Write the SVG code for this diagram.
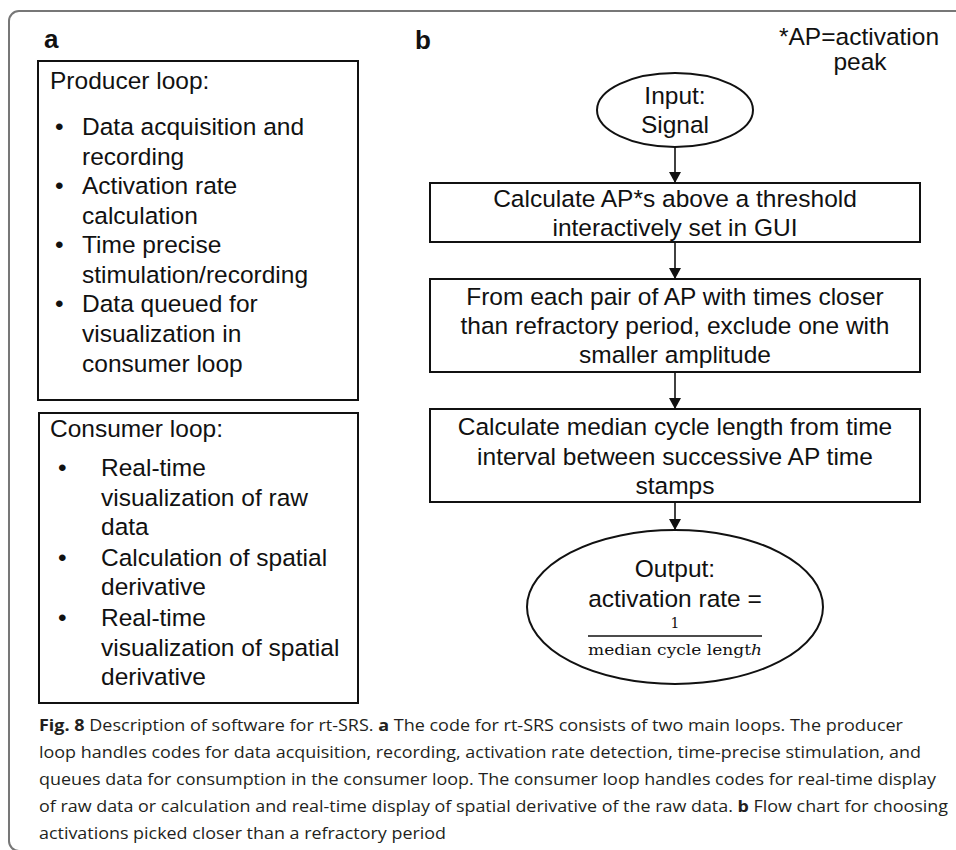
<svg xmlns="http://www.w3.org/2000/svg" width="956" height="850" viewBox="0 0 956 850">
<style>
.t{font-family:"Liberation Sans",Arial,sans-serif;font-size:24.5px;fill:#111}
.c{text-anchor:middle}
.lbl{font-family:"Liberation Sans",Arial,sans-serif;font-size:26px;font-weight:bold;fill:#111}
.box{fill:#fff;stroke:#111;stroke-width:2}
.cap{font-family:"Open Sans","Noto Sans",sans-serif;font-size:16.5px;fill:#231f20}
.b{font-weight:bold}
.conn{stroke:#111;stroke-width:1.6;fill:none}
.math{font-family:"DejaVu Serif","Liberation Serif",serif;fill:#111}
</style>
<defs>
<marker id="arr" markerUnits="userSpaceOnUse" markerWidth="12" markerHeight="12" refX="11" refY="6" orient="auto">
<path d="M0,0 L11,6 L0,12 z" fill="#111"/>
</marker>
</defs>
<rect x="9" y="11" width="980" height="840" rx="10" ry="10" fill="#fff" stroke="#777" stroke-width="2"/>
<text class="lbl" x="44" y="48">a</text>
<text class="lbl" x="415" y="49">b</text>
<g id="note">
<text class="t c" x="859" y="45">*AP=activation</text>
<text class="t c" x="860" y="70">peak</text>
</g>
<g id="producer">
<rect class="box" x="38" y="61" width="320" height="339"/>
<text class="t" x="50" y="89">Producer loop:</text>
<text class="t" x="55" y="135">•</text>
<text class="t" x="82" y="135">Data acquisition and</text>
<text class="t" x="82" y="164.5">recording</text>
<text class="t" x="55" y="194">•</text>
<text class="t" x="82" y="194">Activation rate</text>
<text class="t" x="82" y="223.5">calculation</text>
<text class="t" x="55" y="253">•</text>
<text class="t" x="82" y="253">Time precise</text>
<text class="t" x="82" y="282.5">stimulation/recording</text>
<text class="t" x="55" y="312">•</text>
<text class="t" x="82" y="312">Data queued for</text>
<text class="t" x="82" y="342">visualization in</text>
<text class="t" x="82" y="372">consumer loop</text>
</g>
<g id="consumer">
<rect class="box" x="39" y="413" width="319" height="290"/>
<text class="t" x="50" y="437">Consumer loop:</text>
<text class="t" x="58" y="476">•</text>
<text class="t" x="101" y="476">Real-time</text>
<text class="t" x="101" y="506">visualization of raw</text>
<text class="t" x="101" y="535">data</text>
<text class="t" x="58" y="566">•</text>
<text class="t" x="101" y="566">Calculation of spatial</text>
<text class="t" x="101" y="595">derivative</text>
<text class="t" x="58" y="626">•</text>
<text class="t" x="101" y="626">Real-time</text>
<text class="t" x="101" y="656">visualization of spatial</text>
<text class="t" x="101" y="685">derivative</text>
</g>
<g id="input">
<ellipse class="box" cx="675" cy="110" rx="78" ry="37"/>
<text class="t c" x="675" y="104">Input:</text>
<text class="t c" x="675" y="133">Signal</text>
</g>
<g id="step1">
<rect class="box" x="430" y="183" width="490" height="59"/>
<text class="t c" x="675" y="207">Calculate AP*s above a threshold</text>
<text class="t c" x="675" y="236">interactively set in GUI</text>
</g>
<g id="step2">
<rect class="box" x="430" y="279" width="490" height="93"/>
<text class="t c" x="675" y="305">From each pair of AP with times closer</text>
<text class="t c" x="675" y="334">than refractory period, exclude one with</text>
<text class="t c" x="675" y="363">smaller amplitude</text>
</g>
<g id="step3">
<rect class="box" x="430" y="409" width="490" height="93"/>
<text class="t c" x="675" y="435">Calculate median cycle length from time</text>
<text class="t c" x="675" y="464.5">interval between successive AP time</text>
<text class="t c" x="675" y="494">stamps</text>
</g>
<g id="output">
<ellipse class="box" cx="675" cy="607" rx="148" ry="77"/>
<text class="t c" x="675" y="577">Output:</text>
<text class="t c" x="675" y="607">activation rate =</text>
<text class="math c" x="675" y="628" font-size="14">1</text>
<line x1="588" y1="636" x2="762" y2="636" stroke="#111" stroke-width="1.5"/>
<text class="math" x="588" y="655" font-size="15" textLength="174" lengthAdjust="spacingAndGlyphs">median cycle lengt<tspan font-style="italic">h</tspan></text>
</g>
<g id="connectors">
<line class="conn" x1="675" y1="147" x2="675" y2="183" marker-end="url(#arr)"/>
<line class="conn" x1="675" y1="242" x2="675" y2="279" marker-end="url(#arr)"/>
<line class="conn" x1="675" y1="372" x2="675" y2="409" marker-end="url(#arr)"/>
<line class="conn" x1="675" y1="502" x2="675" y2="530" marker-end="url(#arr)"/>
</g>
<g id="caption">
<text class="cap" x="39" y="731" textLength="864" lengthAdjust="spacingAndGlyphs"><tspan class="b">Fig. 8</tspan>  Description of software for rt-SRS. <tspan class="b">a</tspan> The code for rt-SRS consists of two main loops. The producer</text>
<text class="cap" x="39" y="758" textLength="882" lengthAdjust="spacingAndGlyphs">loop handles codes for data acquisition, recording, activation rate detection, time-precise stimulation, and</text>
<text class="cap" x="39" y="785" textLength="897" lengthAdjust="spacingAndGlyphs">queues data for consumption in the consumer loop. The consumer loop handles codes for real-time display</text>
<text class="cap" x="39" y="812" textLength="909" lengthAdjust="spacingAndGlyphs">of raw data or calculation and real-time display of spatial derivative of the raw data. <tspan class="b">b</tspan> Flow chart for choosing</text>
<text class="cap" x="39" y="839" textLength="407" lengthAdjust="spacingAndGlyphs">activations picked closer than a refractory period</text>
</g>
</svg>
